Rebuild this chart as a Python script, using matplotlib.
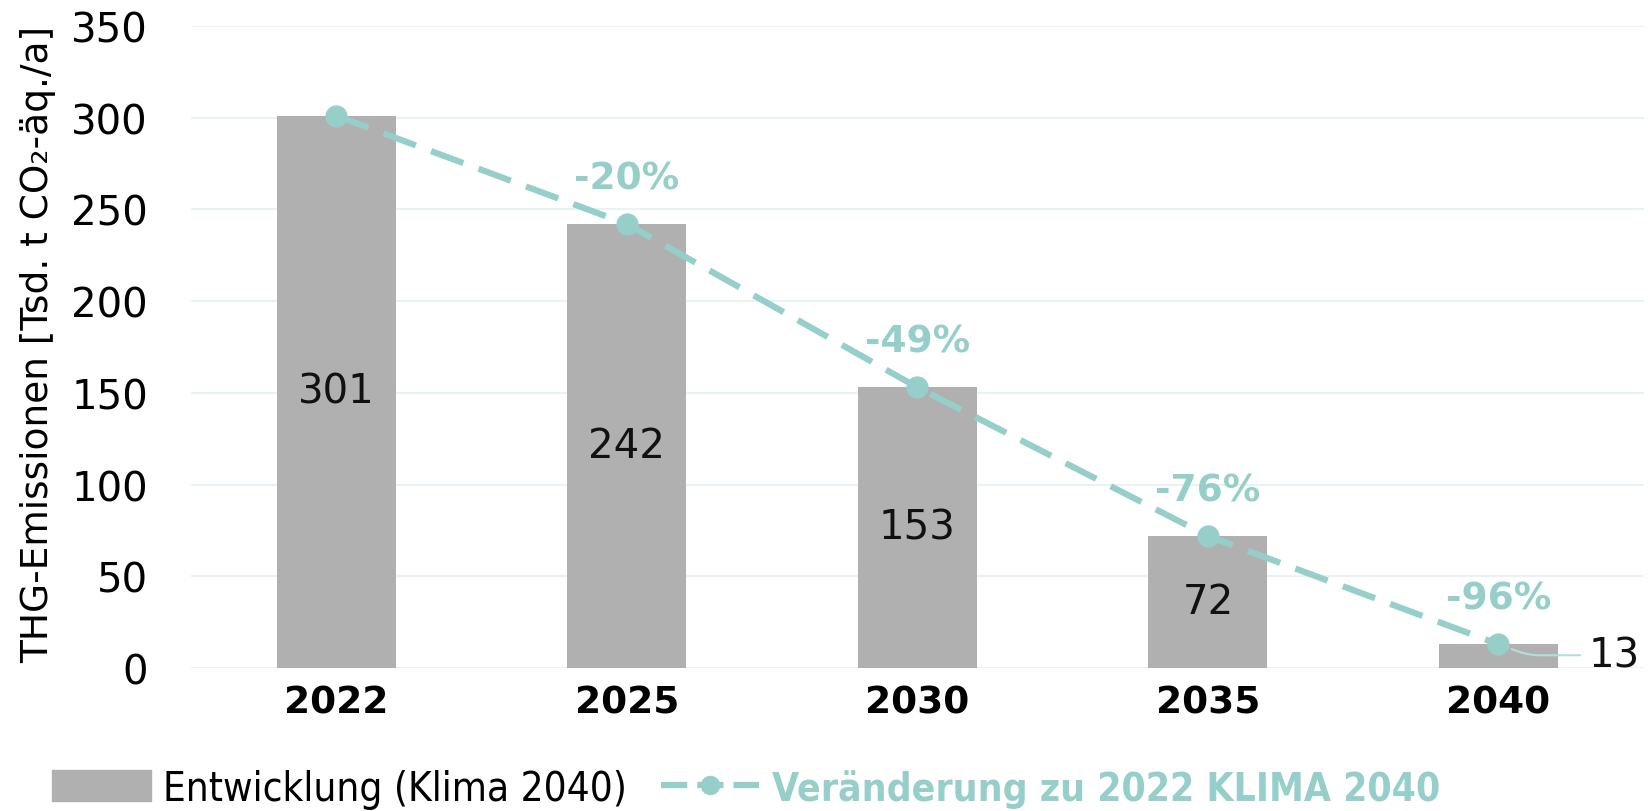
import matplotlib
matplotlib.use("Agg")
import matplotlib.pyplot as plt
from matplotlib.lines import Line2D
from matplotlib.patches import Patch

years = ["2022", "2025", "2030", "2035", "2040"]
emissions = [301, 242, 153, 72, 13]
change_labels = ["", "-20%", "-49%", "-76%", "-96%"]

bar_col = "#B0B0B0"
teal = "#96CFC9"
grid_col = "#E8F3F3"

plt.rcParams["font.family"] = ["DejaVu Sans"]

fig = plt.figure(figsize=(16.49, 8.12), dpi=100)
ax = fig.add_axes([0.1158, 0.176, 0.881, 0.791])

x = list(range(len(years)))
ax.bar(x, emissions, width=0.41, color=bar_col, zorder=2)
ax.plot(x, emissions, color=teal, lw=4.5, ls=(0, (5.5, 2.6)), marker="o",
        markersize=15, zorder=3)

for i, v in enumerate(emissions):
    if i < len(emissions) - 1:
        ax.text(i, v / 2, str(v), ha="center", va="center", fontsize=29, color="#111111", zorder=4)
    else:
        ax.annotate(str(v), xy=(i, v), xytext=(i + 0.31, 7), ha="left", va="center",
                    fontsize=29, color="#111111",
                    arrowprops=dict(arrowstyle="-", color="#B5DDD9", lw=1.5,
                                    connectionstyle="angle,angleA=0,angleB=-20,rad=10",
                                    shrinkA=4, shrinkB=10))
    if change_labels[i]:
        ax.annotate(change_labels[i], xy=(i, v), xytext=(0, 33), textcoords="offset points",
                    ha="center", va="center", fontsize=27, color=teal, fontweight="bold")

ax.set_xlim(-0.5, len(years) - 0.5)
ax.set_ylim(0, 350)
ax.set_yticks(range(0, 351, 50))
ax.yaxis.grid(True, color=grid_col, lw=1.5, zorder=0)
ax.set_axisbelow(True)
for s in ax.spines.values():
    s.set_visible(False)
ax.tick_params(axis="both", length=0)
ax.tick_params(axis="y", labelsize=29, pad=31)
ax.set_xticks(x)
ax.set_xticklabels(years, fontsize=27, fontweight="bold")
ax.tick_params(axis="x", pad=12)
ax.set_ylabel("THG-Emissionen [Tsd. t CO₂-äq./a]", fontsize=27)
ax.yaxis.set_label_coords(-0.093, 0.505)

handles = [Patch(color=bar_col),
           Line2D([0], [0], color=teal, lw=4.5, ls=(0, (4.2, 1.6)), marker="o", markersize=13)]
leg = fig.legend(handles, ["Entwicklung (Klima 2040)", "Veränderung zu 2022 KLIMA 2040"],
                 loc="lower left", bbox_to_anchor=(0.0095, -0.042), ncol=2, frameon=False,
                 prop={"family": "DejaVu Sans", "stretch": "condensed", "size": 29},
                 handlelength=2.45, handleheight=0.8, columnspacing=0.85, handletextpad=0.3)
texts = leg.get_texts()
texts[1].set_color(teal)
texts[1].set_fontweight("bold")
texts[1].set_fontsize(28)

fig.savefig("out.png", dpi=100)
